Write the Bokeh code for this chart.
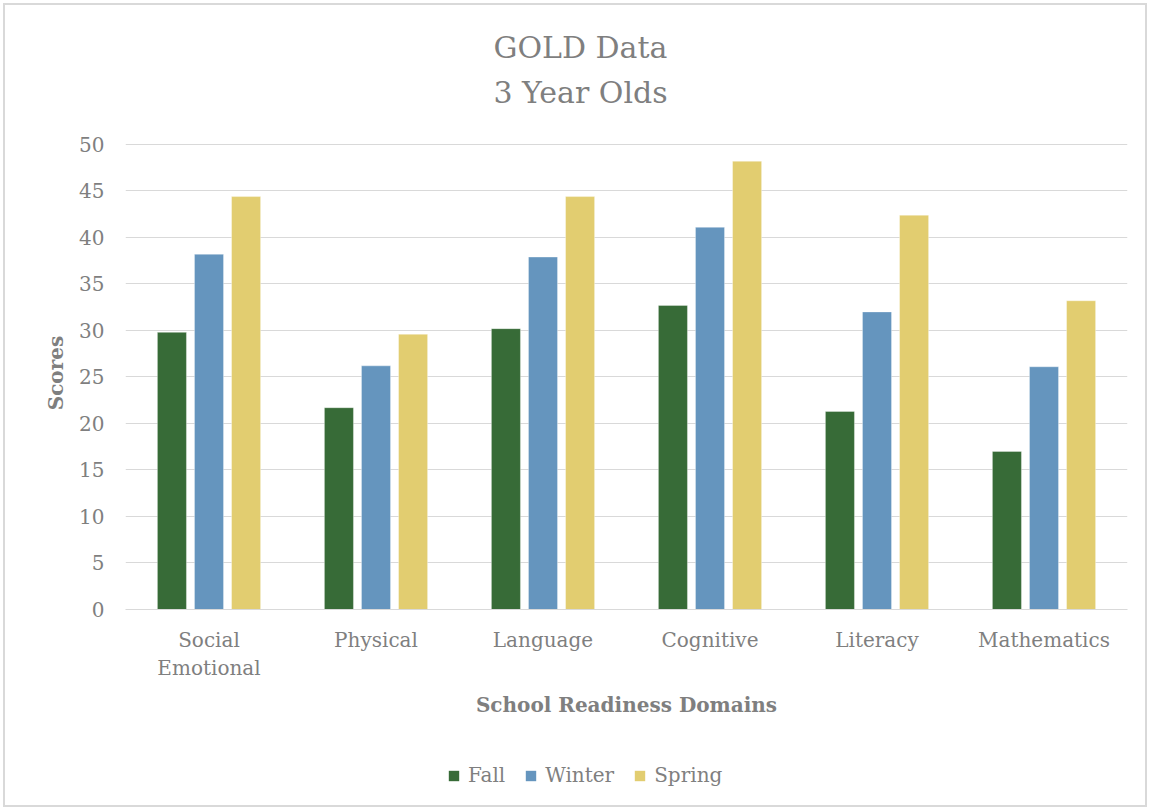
from bokeh.plotting import figure
from bokeh.models import (ColumnDataSource, FactorRange, Range1d, Legend, LegendItem,
                          Title, FixedTicker)
from bokeh.layouts import column
from bokeh.transform import dodge
from bokeh.embed import file_html
from bokeh.resources import INLINE

categories = ["Social\nEmotional", "Physical", "Language", "Cognitive", "Literacy", "Mathematics"]
fall = [29.8, 21.7, 30.2, 32.7, 21.3, 17.0]
winter = [38.2, 26.2, 37.9, 41.1, 32.0, 26.1]
spring = [44.4, 29.6, 44.4, 48.2, 42.4, 33.2]
series_names = ["Fall", "Winter", "Spring"]
y_ticks = [0, 5, 10, 15, 20, 25, 30, 35, 40, 45, 50]

colors = ["#376B37", "#6595BE", "#E2CD70"]
FONT = "DejaVu Serif"
GRAY = "#7f7f7f"

source = ColumnDataSource(data=dict(cat=categories, Fall=fall, Winter=winter, Spring=spring))

p = figure(width=1150, height=740, output_backend="svg", toolbar_location=None,
           x_range=FactorRange(factors=categories, range_padding=0),
           y_range=Range1d(0, 50.86),
           min_border_left=125, min_border_right=23, min_border_top=136, min_border_bottom=131)
p.border_fill_color = None
p.background_fill_color = None

offsets = [-0.222, 0.0, 0.222]
for name, off, col in zip(series_names, offsets, colors):
    p.vbar(x=dodge("cat", off, range=p.x_range), top=name, width=0.174, source=source,
           fill_color=col, line_color="white", line_alpha=0.35, line_width=1)

p.add_layout(Title(text="GOLD Data\n3 Year Olds", text_font=FONT, text_font_size="30px",
                   text_font_style="normal", text_color=GRAY, align="left",
                   text_line_height=1.275, standoff=54, offset=368), "above")

p.outline_line_color = None
p.xgrid.grid_line_color = None
p.ygrid.grid_line_color = "#d9d9d9"
p.ygrid.grid_line_width = 1
p.yaxis.ticker = FixedTicker(ticks=y_ticks)

for ax in (p.xaxis[0], p.yaxis[0]):
    ax.major_tick_line_color = None
    ax.minor_tick_line_color = None
    ax.major_label_text_font = FONT
    ax.major_label_text_font_size = "20px"
    ax.major_label_text_color = GRAY
    ax.axis_label_text_font = FONT
    ax.axis_label_text_font_size = "20px"
    ax.axis_label_text_font_style = "bold"
    ax.axis_label_text_color = GRAY

p.yaxis.axis_line_color = None
p.xaxis.axis_line_color = "#d9d9d9"
p.yaxis.major_label_standoff = 15
p.xaxis.major_label_standoff = 12
p.yaxis.axis_label = "Scores"
p.xaxis.axis_label = "School Readiness Domains"
p.yaxis.axis_label_standoff = 8
p.xaxis.axis_label_standoff = 10

# legend strip below the chart
lg = figure(width=1150, height=70, output_backend="svg", toolbar_location=None,
            x_range=FactorRange(factors=categories), y_range=Range1d(0, 1),
            x_axis_type=None, y_axis_type=None, min_border=0)
lg.border_fill_color = None
lg.background_fill_color = None
lg.outline_line_color = None
lg.xgrid.grid_line_color = None
lg.ygrid.grid_line_color = None
leg_renderers = []
for name, col in zip(series_names, colors):
    r = lg.vbar(x="cat", top=name, width=0.174, source=source, fill_color=col,
                line_color=None, visible=False)
    leg_renderers.append(r)

legend = Legend(items=[LegendItem(label=n, renderers=[r]) for n, r in zip(series_names, leg_renderers)],
                orientation="horizontal", location=(322, 23),
                label_text_font=FONT, label_text_font_size="20px", label_text_color=GRAY,
                glyph_width=13, glyph_height=13, label_standoff=8, spacing=19,
                border_line_color=None, background_fill_alpha=0, margin=0, padding=0,
                inactive_fill_alpha=0, click_policy="none")
lg.add_layout(legend, "center")

layout = column(p, lg, spacing=0)
layout.styles = {"outline": "2px solid #d9d9d9", "outline-offset": "-5px"}

open("out.html", "w").write(file_html(layout, INLINE))
